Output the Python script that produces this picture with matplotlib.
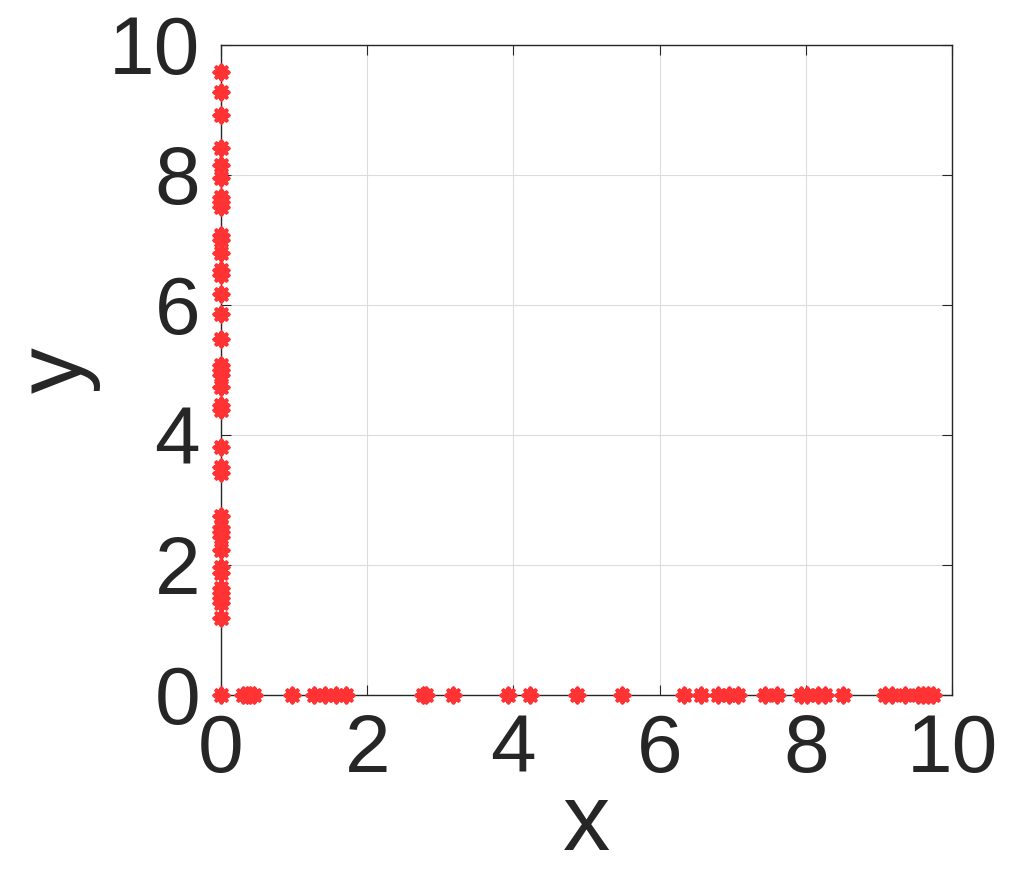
import numpy as np
import matplotlib.pyplot as plt

plt.rcParams['font.family'] = ['Liberation Sans', 'DejaVu Sans']

# points lying on the x axis (y = 0)
x_on_axis = [0.0, 0.305, 0.35, 0.40, 0.455, 0.975, 1.276, 1.423, 1.573, 1.714,
             2.767, 2.804, 3.178, 3.930, 4.227, 4.866, 5.481, 6.338, 6.566,
             6.803, 6.953, 7.077, 7.442, 7.602, 7.934, 8.012, 8.171, 8.263,
             8.513, 9.083, 9.175, 9.357, 9.539, 9.607, 9.676, 9.744]
# points lying on the y axis (x = 0)
y_on_axis = [9.589, 9.282, 8.923, 8.411, 8.154, 7.949, 7.666, 7.589, 7.512,
             7.077, 7.000, 6.795, 6.538, 6.462, 6.165, 5.857, 5.477, 5.077,
             5.000, 4.923, 4.743, 4.462, 4.385, 3.811, 3.50, 3.41, 2.754,
             2.589, 2.512, 2.435, 2.231, 1.974, 1.872, 1.642, 1.565, 1.488,
             1.411, 1.180]

ticks = [0, 2, 4, 6, 8, 10]
red = '#ff3333'
dark = '#262626'

fig = plt.figure(figsize=(10.17, 8.85), dpi=100)
ax = fig.add_axes([0.2173, 0.2147, 0.7188, 0.7345])

mk = dict(marker=(8, 2, 0), s=100, color=red, linewidths=3.0, clip_on=False, zorder=5)
ax.scatter(x_on_axis, np.zeros(len(x_on_axis)), **mk)
ax.scatter(np.zeros(len(y_on_axis)), y_on_axis, **mk)

ax.set_xlim(0, 10)
ax.set_ylim(0, 10)
ax.set_xticks(ticks)
ax.set_yticks(ticks)
ax.grid(True, color='#dcdcdc', linewidth=0.8)
ax.set_axisbelow(True)
ax.tick_params(direction='in', length=7, width=0.8, colors=dark,
               labelsize=59, top=True, right=True)
ax.tick_params(axis='x', pad=13)
ax.tick_params(axis='y', pad=15)
for s in ax.spines.values():
    s.set_color(dark)
    s.set_linewidth(1.0)

ax.set_xlabel('x', fontsize=68, color=dark, labelpad=-6)
ax.set_ylabel('y', fontsize=66, color=dark, labelpad=6)

fig.savefig('out.png', dpi=100)
